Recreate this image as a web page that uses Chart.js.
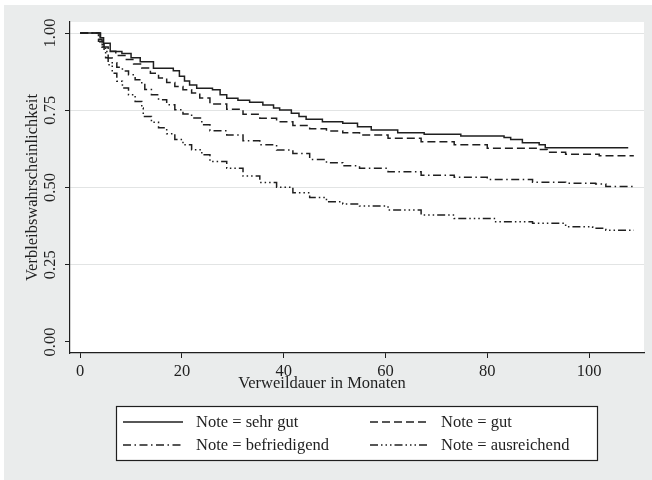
<!DOCTYPE html>
<html>
<head>
<meta charset="utf-8">
<script src="https://cdn.jsdelivr.net/npm/chart.js@4.4.1/dist/chart.umd.min.js"></script>
<style>
  html, body { margin: 0; padding: 0; background: #fff; }
  #wrap { width: 652px; height: 480px; }
</style>
</head>
<body>
<div id="wrap"><canvas id="km" width="652" height="480"></canvas></div>
<script>
// Kaplan-Meier Verbleibskurven
const seriesNames = ["Note = sehr gut", "Note = gut", "Note = befriedigend", "Note = ausreichend"];
const xTitle = "Verweildauer in Monaten";
const yTitle = "Verbleibswahrscheinlichkeit";

const monthsSehrGut = [0, 3, 4, 4.6, 5.9, 8.2, 10, 11.8, 14.4, 18.3, 19.5, 20.5, 21.5, 22.9, 26, 27.5, 28.8, 31, 33.3, 35.9, 38, 39.2, 41.5, 43, 44.4, 47.6, 51.6, 54.5, 57.2, 62.4, 67.6, 74.8, 83.3, 84.6, 86.9, 90.2, 91.4, 107.7];
const valuesSehrGut = [1, 1, 0.985, 0.967, 0.94, 0.934, 0.92, 0.907, 0.886, 0.878, 0.86, 0.845, 0.832, 0.821, 0.816, 0.80, 0.789, 0.782, 0.776, 0.767, 0.757, 0.751, 0.740, 0.73, 0.721, 0.713, 0.708, 0.697, 0.686, 0.677, 0.672, 0.667, 0.662, 0.655, 0.645, 0.638, 0.629, 0.629];

const monthsGut = [0, 3, 3.6, 4.5, 5.5, 7, 8.8, 10.5, 12.1, 13.8, 15.4, 17, 18.6, 20.2, 21.9, 23.5, 25.5, 28.8, 32, 35.3, 38.6, 41.8, 45.1, 48.4, 51.6, 54.9, 60.5, 67, 73.5, 80, 90.2, 91.8, 95.4, 102, 108.8];
const valuesGut = [1, 1, 0.973, 0.955, 0.941, 0.927, 0.914, 0.90, 0.887, 0.870, 0.854, 0.84, 0.827, 0.816, 0.806, 0.79, 0.770, 0.753, 0.737, 0.724, 0.713, 0.701, 0.690, 0.683, 0.677, 0.670, 0.659, 0.648, 0.638, 0.627, 0.623, 0.614, 0.608, 0.603, 0.603];

const monthsBefriedigend = [0, 3, 3.9, 4.7, 5.5, 6.3, 7.2, 8.3, 9.5, 10.8, 12.1, 12.7, 14, 15.4, 17, 18.6, 20.2, 21.9, 23.9, 25.5, 28.8, 32, 35.3, 38.6, 41.8, 45.1, 48.4, 51.6, 54.9, 60.5, 67, 73.5, 80, 88.9, 95.4, 101.3, 103.3, 108.8];
const valuesBefriedigend = [1, 1, 0.962, 0.94, 0.919, 0.904, 0.889, 0.877, 0.865, 0.849, 0.833, 0.817, 0.80, 0.784, 0.768, 0.752, 0.738, 0.725, 0.703, 0.684, 0.670, 0.651, 0.638, 0.621, 0.610, 0.591, 0.580, 0.570, 0.562, 0.551, 0.540, 0.533, 0.526, 0.517, 0.514, 0.511, 0.503, 0.501];

const monthsAusreichend = [0, 3, 3.6, 4.3, 5, 5.5, 6.3, 7.2, 8.3, 9.5, 10.8, 12.1, 12.4, 14, 15.4, 17, 18.6, 20.2, 21.9, 23.9, 25.5, 28.8, 32, 35.3, 38.6, 41.8, 45.1, 48.4, 51.6, 54.9, 60.5, 67, 73.5, 81.4, 88.9, 95.4, 100.7, 103.3, 108.8];
const valuesAusreichend = [1, 1, 0.98, 0.951, 0.92, 0.897, 0.87, 0.844, 0.822, 0.800, 0.778, 0.757, 0.730, 0.711, 0.693, 0.674, 0.655, 0.638, 0.622, 0.606, 0.584, 0.562, 0.537, 0.516, 0.501, 0.483, 0.468, 0.454, 0.447, 0.440, 0.427, 0.411, 0.400, 0.389, 0.384, 0.373, 0.368, 0.362, 0.362];

const xTicks = [0, 20, 40, 60, 80, 100];
const yTicks = [0, 0.25, 0.5, 0.75, 1];

const FONT = "'Liberation Serif', 'Times New Roman', serif";
const INK = "#1f1f1f";
const BG = "#eaecec";
const GRID = "#e2e4e4";

const toPoints = (xs, ys) => xs.map((x, i) => ({ x, y: ys[i] }));

const makeSet = (label, xs, ys, dash) => ({
    label,
    data: toPoints(xs, ys),
    stepped: true,
    borderColor: INK,
    borderWidth: 1.5,
    borderDash: dash,
    pointRadius: 0,
    fill: false
});

const backgroundPlugin = {
    id: "background",
    beforeDraw(chart) {
        const { ctx, chartArea: a } = chart;
        ctx.save();
        ctx.fillStyle = "#fff";
        ctx.fillRect(0, 0, chart.width, chart.height);
        ctx.fillStyle = BG;
        ctx.fillRect(4, 5, chart.width - 4, chart.height - 5);
        ctx.fillStyle = "#fff";
        ctx.fillRect(a.left, a.top, a.right - a.left, a.bottom - a.top);
        ctx.restore();
    }
};

// x-Titel sitzt in der Vorlage links von der Plotmitte
const xTitlePlugin = {
    id: "xTitle",
    afterDraw(chart) {
        const ctx = chart.ctx;
        ctx.save();
        ctx.fillStyle = INK;
        ctx.font = "16.5px " + FONT;
        ctx.textAlign = "center";
        ctx.textBaseline = "middle";
        ctx.fillText(xTitle, 322, 384);
        ctx.restore();
    }
};

const legendPlugin = {
    id: "kmLegend",
    afterDraw(chart) {
        const ctx = chart.ctx;
        ctx.save();
        ctx.fillStyle = "#fff";
        ctx.fillRect(116.5, 406.5, 481, 54);
        ctx.strokeStyle = INK;
        ctx.lineWidth = 1.2;
        ctx.strokeRect(116.5, 406.5, 481, 54);
        chart.data.datasets.forEach((ds, i) => {
            const col = i % 2;
            const row = Math.floor(i / 2);
            const lx = col ? 370 : 123;
            const tx = col ? 441 : 196;
            const y = row ? 446 : 423;
            ctx.setLineDash(ds.borderDash || []);
            ctx.lineWidth = ds.borderWidth;
            ctx.strokeStyle = ds.borderColor;
            ctx.beginPath();
            ctx.moveTo(lx, y - 1);
            ctx.lineTo(lx + 60, y - 1);
            ctx.stroke();
            ctx.setLineDash([]);
            ctx.fillStyle = INK;
            ctx.font = "16.5px " + FONT;
            ctx.textBaseline = "middle";
            ctx.fillText(ds.label, tx, y);
        });
        ctx.restore();
    }
};

new Chart(document.getElementById("km"), {
    type: "line",
    data: {
        datasets: [
            makeSet(seriesNames[0], monthsSehrGut, valuesSehrGut, []),
            makeSet(seriesNames[1], monthsGut, valuesGut, [8, 4]),
            makeSet(seriesNames[2], monthsBefriedigend, valuesBefriedigend, [8, 3.5, 1.5, 3.5]),
            makeSet(seriesNames[3], monthsAusreichend, valuesAusreichend, [8, 3, 1.5, 3, 1.5, 3, 1.5, 3])
        ]
    },
    options: {
        responsive: false,
        devicePixelRatio: 1,
        animation: false,
        layout: { padding: { left: 0, top: 22, right: 8, bottom: 85 } },
        plugins: {
            legend: { display: false },
            tooltip: { enabled: false }
        },
        scales: {
            x: {
                type: "linear",
                min: -2,
                max: 110.8,
                afterBuildTicks: s => { s.ticks = xTicks.map(v => ({ value: v })); },
                afterFit: s => { s.height = 42; },
                ticks: { color: INK, font: { family: FONT, size: 16.5 }, padding: 4, callback: v => String(v) },
                grid: { drawOnChartArea: false, drawTicks: true, tickLength: 5, tickColor: INK },
                border: { color: INK, width: 1.2 },
                title: { display: false }
            },
            y: {
                min: -0.0356,
                max: 1.0356,
                afterBuildTicks: s => { s.ticks = yTicks.map(v => ({ value: v })); },
                afterFit: s => { s.width = 70; },
                ticks: {
                    color: INK,
                    font: { family: FONT, size: 16.5 },
                    padding: 0,
                    minRotation: 90,
                    maxRotation: 90,
                    crossAlign: "center",
                    callback: v => v.toFixed(2)
                },
                grid: {
                    color: c => (c.tick && c.tick.value === 0 ? "rgba(0,0,0,0)" : GRID),
                    lineWidth: 1,
                    drawTicks: true,
                    tickLength: 5,
                    tickColor: INK
                },
                border: { color: INK, width: 1.2 },
                title: {
                    display: true,
                    text: yTitle,
                    color: INK,
                    font: { family: FONT, size: 16.5 },
                    padding: { top: 23, bottom: 0 }
                }
            }
        }
    },
    plugins: [backgroundPlugin, xTitlePlugin, legendPlugin]
});
</script>
</body>
</html>
